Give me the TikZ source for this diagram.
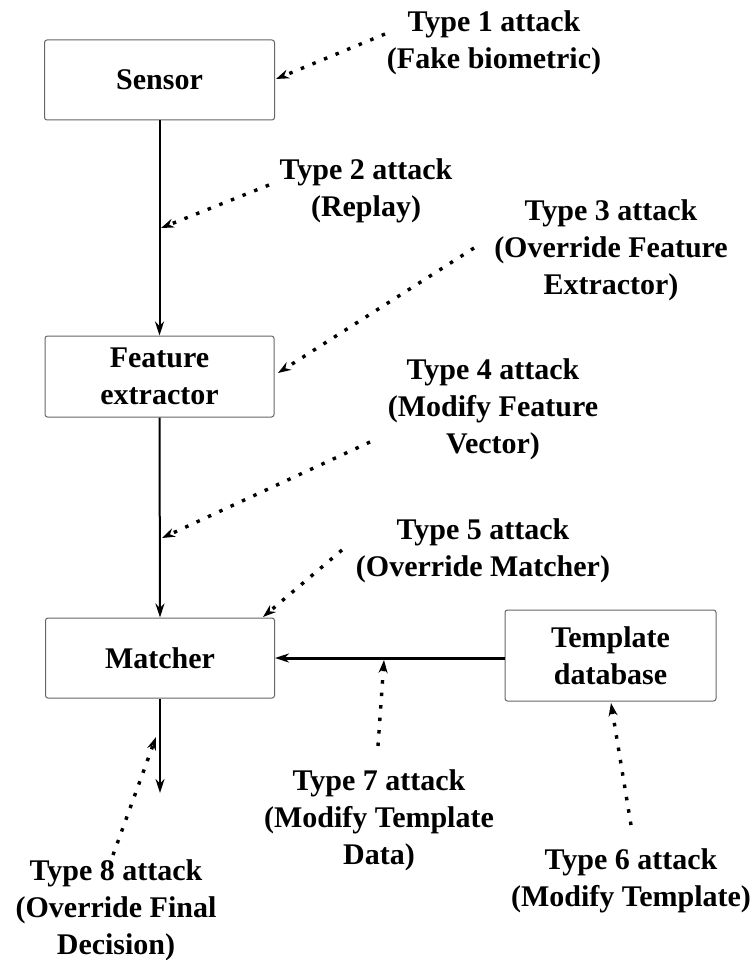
\documentclass[tikz,border=0pt]{standalone}
\usepackage{fontspec}
\setmainfont{Liberation Serif}
\usetikzlibrary{arrows.meta}
\begin{document}
\begin{tikzpicture}[x=1pt,y=-1pt,
  every node/.style={font=\fontsize{30}{36.8}\selectfont\bfseries, align=center, inner sep=0pt},
  blk/.style={draw=black!60, line width=1pt, rounded corners=2.5pt},
  flow/.style={line width=2pt, -{Stealth[length=14pt,width=9pt]}},
  attack/.style={line width=3.4pt, dash pattern=on 3.5pt off 9pt, -{Stealth[length=13pt,width=9pt]}}]
\useasboundingbox (0,0) rectangle (750,960);
% boxes
\node[blk, minimum width=230pt, minimum height=80pt] (sensor) at (159.5,80) {Sensor};
\node[blk, minimum width=229pt, minimum height=81pt] (feat) at (159.5,376.5) {Feature\\extractor};
\node[blk, minimum width=229pt, minimum height=80pt] (match) at (160,658) {Matcher};
\node[blk, minimum width=211pt, minimum height=91pt] (tmpl) at (610.5,655.5) {Template\\database};
% labels
\node (t1) at (494,43) {Type 1 attack\\(Fake biometric)};
\node (t2) at (366,191) {Type 2 attack\\(Replay)};
\node (t3) at (611,250) {Type 3 attack\\(Override Feature\\Extractor)};
\node (t4) at (493,409) {Type 4 attack\\(Modify Feature\\Vector)};
\node (t5) at (483,551) {Type 5 attack\\(Override Matcher)};
\node (t6) at (631,881) {Type 6 attack\\(Modify Template)};
\node (t7) at (379,820) {Type 7 attack\\(Modify Template\\Data)};
\node (t8) at (116,910) {Type 8 attack\\(Override Final\\Decision)};
% main flow
\coordinate (out) at (160,793);
\draw[flow] (sensor.south) -- (feat.north);
\draw[flow] (feat.south) -- (match.north);
\draw[flow, line width=3pt] (tmpl.west |- 0,658) -- (match.east |- 0,658);
\draw[flow] (match.south) -- (out);
% attack start/end points
\coordinate (s1) at (385,34);   \coordinate (e1) at (276,79);
\coordinate (s2) at (269,185);  \coordinate (e2) at (161,228);
\coordinate (s3) at (474,248);  \coordinate (e3) at (278,373);
\coordinate (s4) at (370,442);  \coordinate (e4) at (162,538);
\coordinate (s5) at (342,550);  \coordinate (e5) at (263,617);
\coordinate (s6) at (631,825);  \coordinate (e6) at (611,703);
\coordinate (s7) at (378,746);  \coordinate (e7) at (384,660);
\coordinate (s8) at (113,855);  \coordinate (e8) at (156,737);
\foreach \i in {1,...,8} {\draw[attack] (s\i) -- (e\i);}
\end{tikzpicture}
\end{document}
